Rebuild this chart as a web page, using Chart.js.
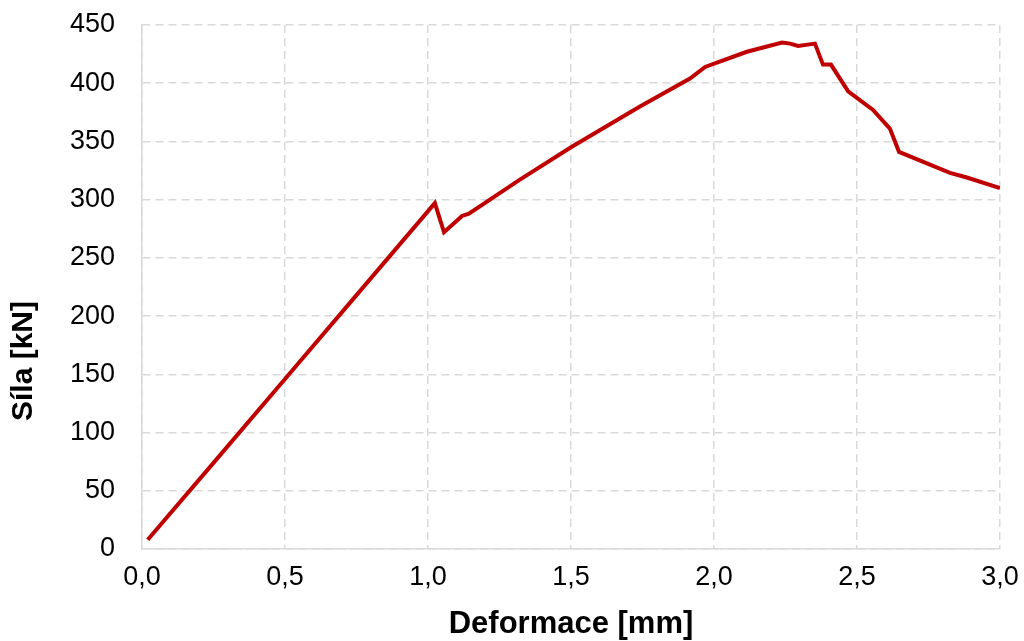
<!DOCTYPE html>
<html>
<head>
<meta charset="utf-8">
<script src="https://cdn.jsdelivr.net/npm/chart.js@4"></script>
<style>
  html, body { margin: 0; padding: 0; background: #fff; }
  #wrap { width: 1024px; height: 641px; }
</style>
</head>
<body>
<div id="wrap"><canvas id="chart" width="1024" height="641"></canvas></div>
<script>
// deformace [mm] / sila [kN]
const deformace = [0.02, 0.25, 0.5, 0.75, 1.024, 1.056, 1.119, 1.143, 1.32, 1.5, 1.741, 1.916, 1.969, 2.003, 2.115, 2.238, 2.266, 2.294, 2.353, 2.381, 2.409, 2.469, 2.556, 2.615, 2.647, 2.825, 2.884, 3.0];
const sila      = [8, 74, 146, 218, 297, 272, 286, 288, 317, 345, 380, 404, 414, 417, 427, 435, 434, 432, 434, 416, 416, 393, 377, 361, 341, 323, 319, 310];
const xTicks = [0, 0.5, 1, 1.5, 2, 2.5, 3];
const yTicks = [0, 50, 100, 150, 200, 250, 300, 350, 400, 450];
const yTitle = 'Síla [kN]';

const points = deformace.map((d, i) => ({ x: d, y: sila[i] }));
const fam = "'Liberation Sans', Arial, sans-serif";
const font = { family: fam, size: 27 };
const titleFont = { family: fam, size: 31, weight: 'bold', lineHeight: 1 };

// y title sits lower than the axis centre in the original, so draw it by hand
const yTitlePlugin = {
  id: 'yTitle',
  afterDraw(chart) {
    const ctx = chart.ctx;
    ctx.save();
    ctx.translate(24, 361);
    ctx.rotate(-Math.PI / 2);
    ctx.font = 'bold 30px ' + fam;
    ctx.fillStyle = '#000';
    ctx.textAlign = 'center';
    ctx.textBaseline = 'middle';
    ctx.fillText(yTitle, 0, 0);
    ctx.restore();
  }
};

new Chart(document.getElementById('chart').getContext('2d'), {
  type: 'scatter',
  data: {
    datasets: [{
      data: points,
      showLine: true,
      borderColor: '#C00000',
      borderWidth: 4,
      pointRadius: 0,
      tension: 0
    }]
  },
  options: {
    responsive: false,
    animation: false,
    layout: { padding: { top: 25, right: 24, left: 0, bottom: 0 } },
    plugins: { legend: { display: false }, tooltip: { enabled: false } },
    scales: {
      x: {
        type: 'linear', min: 0, max: 3,
        afterBuildTicks: s => { s.ticks = xTicks.map(v => ({ value: v })); },
        afterFit: s => { s.height = 92; s.paddingLeft = 0; s.paddingRight = 0; },
        ticks: { color: '#000', font: font, padding: 12, maxRotation: 0,
          callback: v => v.toFixed(1).replace('.', ',') },
        grid: { color: '#d9d9d9', lineWidth: 1.5, drawTicks: false },
        border: { display: true, color: '#d9d9d9', width: 1.5, dash: [8, 5] },
        title: { display: true, text: 'Deformace [mm]', color: '#000', font: titleFont, padding: { top: 0, bottom: 1 } }
      },
      y: {
        min: 0, max: 450,
        afterBuildTicks: s => { s.ticks = yTicks.map(v => ({ value: v })); },
        afterFit: s => { s.width = 142; s.paddingTop = 0; s.paddingBottom = 0; },
        ticks: { color: '#000', font: font, padding: 27 },
        grid: { color: '#d9d9d9', lineWidth: 1.5, drawTicks: false },
        border: { display: true, color: '#d9d9d9', width: 1.5, dash: [8, 5] }
      }
    }
  },
  plugins: [yTitlePlugin]
});
</script>
</body>
</html>
